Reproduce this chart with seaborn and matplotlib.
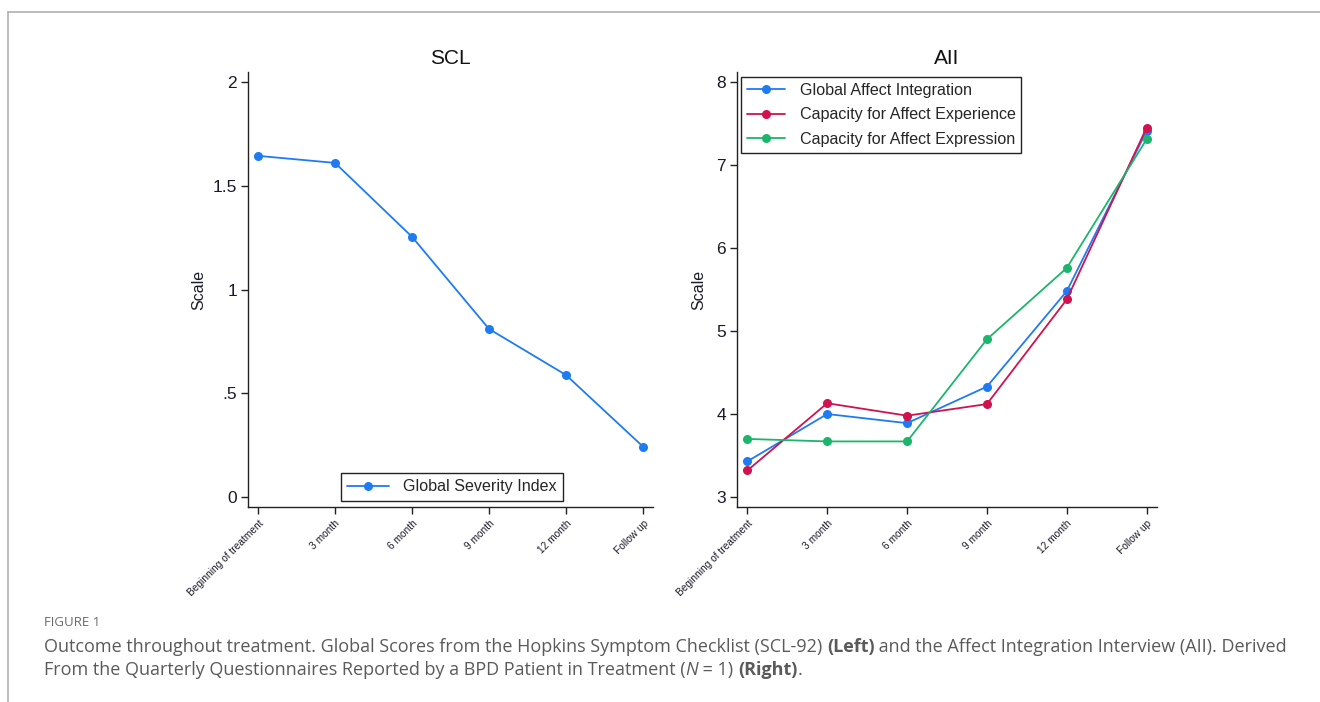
import matplotlib
matplotlib.use("Agg")
import matplotlib.pyplot as plt
from matplotlib.lines import Line2D
import seaborn as sns
import pandas as pd

# --- data -------------------------------------------------------------
timepoints = ["Beginning of treatment", "3 month", "6 month", "9 month", "12 month", "Follow up"]

scl_label = "Global Severity Index"
scl_gsi = [1.644, 1.61, 1.254, 0.81, 0.588, 0.243]

aii_labels = ["Global Affect Integration", "Capacity for Affect Experience", "Capacity for Affect Expression"]
aii_global = [3.43, 4.00, 3.89, 4.33, 5.48, 7.41]
aii_experience = [3.32, 4.13, 3.98, 4.12, 5.38, 7.45]
aii_expression = [3.70, 3.67, 3.67, 4.90, 5.76, 7.31]

scl_yticks = [0, 0.5, 1, 1.5, 2]
scl_yticklabels = ["0", ".5", "1", "1.5", "2"]
aii_yticks = [3, 4, 5, 6, 7, 8]

colors = ["#1f7bf2", "#d0124f", "#1cb56c"]

# --- style --------------------------------------------------------------
sns.set_style("ticks")
plt.rcParams["font.family"] = ["Liberation Sans", "DejaVu Sans"]
plt.rcParams["axes.edgecolor"] = "#222222"
plt.rcParams["axes.linewidth"] = 1.0

fig = plt.figure(figsize=(13.2, 7.02), dpi=100)
W, H = 1320, 702


def px_axes(x0, y0, x1, y1):
    return fig.add_axes([x0 / W, 1 - y1 / H, (x1 - x0) / W, (y1 - y0) / H])


ax1 = px_axes(248, 72, 653, 507)
ax2 = px_axes(737, 72, 1157, 507)

idx = list(range(len(timepoints)))

# left panel: SCL
df_scl = pd.DataFrame({"t": idx, "value": scl_gsi, "series": scl_label})
sns.lineplot(data=df_scl, x="t", y="value", ax=ax1, color=colors[0], marker="o",
             markersize=6.5, markeredgewidth=0, linewidth=1.3, legend=False)

# right panel: AII
df_aii = pd.DataFrame({
    "t": idx * 3,
    "value": aii_global + aii_experience + aii_expression,
    "series": [aii_labels[0]] * 6 + [aii_labels[1]] * 6 + [aii_labels[2]] * 6,
})
sns.lineplot(data=df_aii, x="t", y="value", hue="series", hue_order=aii_labels,
             palette=colors, ax=ax2, marker="o", markersize=6.5, markeredgewidth=0,
             linewidth=1.3, legend=False)

for ax, title in ((ax1, "SCL"), (ax2, "AII")):
    sns.despine(ax=ax)
    ax.set_xlim(-0.13, 5.13)
    ax.set_xticks(idx)
    ax.set_xticklabels(timepoints, rotation=45, ha="right", rotation_mode="anchor",
                       fontsize=7.3, color="#1a1a2a")
    ax.tick_params(axis="x", length=5, width=1, pad=3, color="#222222")
    ax.tick_params(axis="y", length=5, width=1, pad=3, labelsize=12.5,
                   labelcolor="#1a1a2a", color="#222222")
    ax.set_xlabel("")
    ax.set_title(title, fontsize=15, pad=6, color="#111111")

ax1.set_ylim(-0.048, 2.048)
ax1.set_yticks(scl_yticks)
ax1.set_yticklabels(scl_yticklabels)
ax1.set_ylabel("Scale", fontsize=11.5, labelpad=4.5, color="#1a1a2a")

ax2.set_ylim(2.88, 8.12)
ax2.set_yticks(aii_yticks)
ax2.set_ylabel("Scale", fontsize=11.5, labelpad=7, color="#1a1a2a")


def handle(c):
    return Line2D([], [], color=c, marker="o", markersize=6.5, markeredgewidth=0, linewidth=1.3)


leg1 = ax1.legend([handle(colors[0])], [scl_label], loc="center",
                  bbox_to_anchor=((452 - 248) / 405, (507 - 487) / 435),
                  fontsize=11.6, frameon=True, fancybox=False, framealpha=1,
                  edgecolor="#222222", handlelength=2.6, handletextpad=0.9,
                  borderpad=0.4, borderaxespad=0)
leg1.get_frame().set_linewidth(1.0)

leg2 = ax2.legend([handle(c) for c in colors], aii_labels, loc="upper left",
                  bbox_to_anchor=((741 - 737) / 420, (507 - 77) / 435), fontsize=11.6,
                  frameon=True, fancybox=False, framealpha=1, edgecolor="#222222",
                  handlelength=2.4, handletextpad=0.9, borderpad=0.35,
                  labelspacing=0.6, borderaxespad=0)
leg2.get_frame().set_linewidth(1.0)

# --- page frame and caption ---------------------------------------------
fig.add_artist(Line2D([8 / W, 1], [1 - 12 / H, 1 - 12 / H], color="#b0b0b0", linewidth=1.2))
fig.add_artist(Line2D([8 / W, 8 / W], [1 - 12 / H, 0], color="#b0b0b0", linewidth=1.2))

cap_font = ["Open Sans", "DejaVu Sans"]
cap_color = "#5a5a5a"
fig.text(44 / W, 1 - 623 / H, "FIGURE 1", fontsize=9.5, color="#6a6a6a",
         family=cap_font, va="center")

renderer = fig.canvas.get_renderer()


def rich_line(x_px, y_px, segments, size=12.95):
    x = x_px
    for txt, weight, style in segments:
        t = fig.text(x / W, 1 - y_px / H, txt, fontsize=size, color=cap_color,
                     family=cap_font, weight=weight, style=style, va="center")
        bb = t.get_window_extent(renderer=renderer)
        x += bb.width


rich_line(44, 647, [
    ("Outcome throughout treatment. Global Scores from the Hopkins Symptom Checklist (SCL-92) ", "normal", "normal"),
    ("(Left)", "bold", "normal"),
    (" and the Affect Integration Interview (AII). Derived", "normal", "normal"),
])
rich_line(44, 670, [
    ("From the Quarterly Questionnaires Reported by a BPD Patient in Treatment (", "normal", "normal"),
    ("N", "normal", "italic"),
    (" = 1) ", "normal", "normal"),
    ("(Right)", "bold", "normal"),
    (".", "normal", "normal"),
])

fig.savefig("out.png", dpi=100)
